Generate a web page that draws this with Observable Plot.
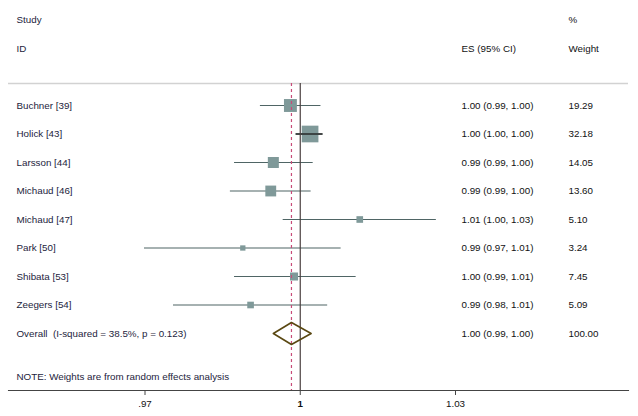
<!DOCTYPE html>
<html>
<head>
<meta charset="utf-8">
<script src="https://cdn.jsdelivr.net/npm/d3@7"></script>
<script src="https://cdn.jsdelivr.net/npm/@observablehq/plot@0.6"></script>
<style>
  html, body { margin: 0; padding: 0; background: #fff; }
  svg text { white-space: pre; }
</style>
</head>
<body>
<div id="chart"></div>
<script>
// ---- data ----
const studies   = ["Buchner [39]", "Holick [43]", "Larsson [44]", "Michaud [46]", "Michaud [47]", "Park [50]", "Shibata [53]", "Zeegers [54]"];
const estimates = [0.9981, 1.0019, 0.9948, 0.9943, 1.0115, 0.9889, 0.9988, 0.9904];
const lowers    = [0.9923, 0.9992, 0.9873, 0.9865, 0.9967, 0.9699, 0.9873, 0.9755];
const uppers    = [1.0040, 1.0044, 1.0025, 1.0021, 1.0263, 1.0079, 1.0108, 1.0053];
const weights   = [19.29, 32.18, 14.05, 13.60, 5.10, 3.24, 7.45, 5.09];

const overallLabel = "Overall  (I-squared = 38.5%, p = 0.123)";
const overallEst = 0.9983, overallLo = 0.9948, overallHi = 1.0021, overallWeight = 100.00;
const noteText = "NOTE: Weights are from random effects analysis";

const headerTop = ["Study", "%"];
const headerBottom = ["ID", "ES (95% CI)", "Weight"];

const tickValues = [0.97, 1, 1.03];
const tickLabels = [".97", "1", "1.03"];

// ---- table ----
const rows = studies.map((s, i) => ({
  label: s, est: estimates[i], lo: lowers[i], hi: uppers[i], w: weights[i], row: i + 1
}));
const overallRow = rows.length + 1;
const fmt = v => v.toFixed(2);
const esStr = d => `${fmt(d.est)} (${fmt(d.lo)}, ${fmt(d.hi)})`;
const overall = {label: overallLabel, est: overallEst, lo: overallLo, hi: overallHi, w: overallWeight, row: overallRow};
const allRows = [...rows, overall];

const dh = 0.386; // diamond half-height in row units
const diamond = [
  {x: overall.lo, y: overallRow},
  {x: overall.est, y: overallRow - dh},
  {x: overall.hi, y: overallRow},
  {x: overall.est, y: overallRow + dh},
  {x: overall.lo, y: overallRow}
];

const sepRow = 0.228, lineTop = 0.228, axisRow = 11, noteRow = 10.53;
const labelColor = "#1d1d3c", numColor = "#111";
const fs = 9.8;

const plot = Plot.plot({
  width: 638,
  height: 416,
  marginLeft: 8,
  marginRight: 10,
  marginTop: 0,
  marginBottom: 26,
  style: {fontFamily: "'Liberation Sans', Arial, sans-serif", fontSize: fs + "px", background: "#fff", color: "#222"},
  x: {domain: [0.97, 1.03], range: [144.5, 455], axis: null},
  y: {domain: [1, 9], range: [105, 333], axis: null},
  r: {type: "sqrt", domain: [0, 100], range: [0, 16.59]},
  marks: [
    // separator line under header
    Plot.ruleY([sepRow], {stroke: "#d2d2d2", strokeWidth: 1.6}),
    // axis line
    Plot.frame({anchor: "bottom", stroke: "#444", strokeWidth: 1.1}),
    // CI lines
    Plot.ruleY(rows, {y: "row", x1: "lo", x2: "hi", stroke: "#4f6565", strokeWidth: 1.2}),
    // weight boxes
    Plot.dot(rows, {x: "est", y: "row", r: "w", symbol: "square", fill: "#7f9999", stroke: "none"}),
    // CI narrower than box: line drawn on top
    Plot.ruleY(rows.filter(d => d.hi - d.lo < 0.006), {y: "row", x1: "lo", x2: "hi", stroke: "#222", strokeWidth: 1.4}),
    // null line at 1
    Plot.ruleX([1], {y1: lineTop, y2: axisRow, stroke: "#4a3f3f", strokeWidth: 1.2}),
    // overall estimate dashed line
    Plot.ruleX([overall.est], {y1: lineTop, y2: axisRow, stroke: "#c84b78", strokeWidth: 1.2, strokeDasharray: "3,3"}),
    // overall diamond
    Plot.line(diamond, {x: "x", y: "y", stroke: "#5a4812", strokeWidth: 1.6, fill: "none", curve: "linear"}),
    // headers
    Plot.text([headerTop[0]], {frameAnchor: "left", dx: 8, y: () => -2, text: d => d, textAnchor: "start", fill: labelColor}),
    Plot.text([headerBottom[0]], {frameAnchor: "left", dx: 8, y: () => -1, text: d => d, textAnchor: "start", fill: labelColor}),
    Plot.text([headerBottom[1]], {frameAnchor: "left", dx: 453, y: () => -1, text: d => d, textAnchor: "start", fill: numColor}),
    Plot.text([headerTop[1]], {frameAnchor: "left", dx: 560, y: () => -2, text: d => d, textAnchor: "start", fill: numColor}),
    Plot.text([headerBottom[2]], {frameAnchor: "left", dx: 560, y: () => -1, text: d => d, textAnchor: "start", fill: numColor}),
    // row labels
    Plot.text(allRows, {frameAnchor: "left", dx: 8, y: "row", text: "label", textAnchor: "start", fill: labelColor}),
    Plot.text(allRows, {frameAnchor: "left", dx: 453, y: "row", text: esStr, textAnchor: "start", fill: numColor}),
    Plot.text(allRows, {frameAnchor: "left", dx: 560, y: "row", text: d => fmt(d.w), textAnchor: "start", fill: numColor}),
    // note
    Plot.text([noteText], {frameAnchor: "left", dx: 8, y: () => noteRow, text: d => d, textAnchor: "start", fill: labelColor}),
    // axis ticks and labels
    Plot.axisX({ticks: tickValues.filter(v => v !== 1), tickFormat: v => tickLabels[tickValues.indexOf(v)], tickSize: 5, tickPadding: 5, stroke: "#444", fill: numColor, fontSize: fs}),
    Plot.axisX({ticks: [1], tickFormat: v => tickLabels[tickValues.indexOf(v)], tickSize: 5, tickPadding: 5, stroke: "#444", fill: numColor, fontSize: fs, fontWeight: "bold"})
  ]
});
document.getElementById("chart").appendChild(plot);
</script>
</body>
</html>
